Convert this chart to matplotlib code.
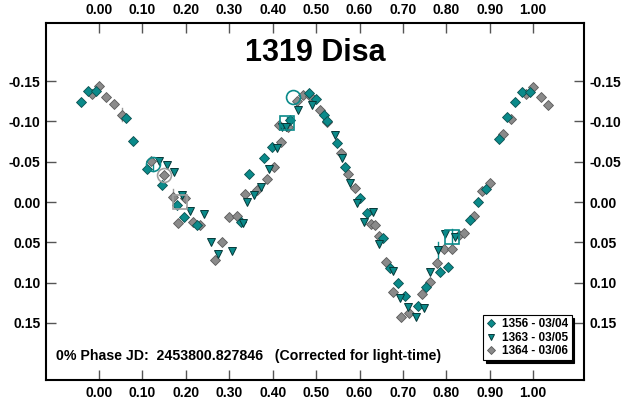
import matplotlib
matplotlib.use("Agg")
import matplotlib.pyplot as plt
from matplotlib.ticker import FixedLocator, FuncFormatter

plt.rcParams['font.family'] = ['Liberation Sans', 'DejaVu Sans']

# 1356 - 03/04 (teal diamonds)
s1_phase = [-0.042, -0.025, -0.007, 0.062, 0.079, 0.110, 0.145, 0.179, 0.195, 0.226,
            0.326, 0.346, 0.381, 0.399, 0.441, 0.483, 0.500, 0.518, 0.526, 0.549,
            0.566, 0.600, 0.617, 0.654, 0.670, 0.688, 0.704, 0.735, 0.753, 0.786,
            0.804, 0.855, 0.874, 0.891, 0.922, 0.940, 0.958, 0.975, 0.992]
s1_mag = [-0.124, -0.1376, -0.1376, -0.104, -0.076, -0.0405, -0.021, 0.0037, 0.018, 0.0285,
          0.025, -0.035, -0.054, -0.0687, -0.1016, -0.1347, -0.1273, -0.108, -0.101, -0.0727,
          -0.0438, -0.0046, 0.014, 0.045, 0.082, 0.100, 0.1165, 0.1285, 0.105, 0.087,
          0.080, 0.0223, -0.0005, -0.016, -0.078, -0.106, -0.124, -0.1367, -0.1367]

# 1363 - 03/05 (teal triangles)
s2_phase = [0.139, 0.156, 0.173, 0.191, 0.209, 0.241, 0.258, 0.275, 0.306, 0.331,
            0.340, 0.356, 0.373, 0.391, 0.409, 0.422, 0.430, 0.459, 0.491, 0.543,
            0.560, 0.578, 0.595, 0.610, 0.630, 0.645, 0.676, 0.694, 0.712, 0.730,
            0.749, 0.763, 0.781, 0.797, 0.820]
s2_mag = [-0.051, -0.0455, -0.037, -0.0087, 0.011, 0.015, 0.049, 0.064, 0.061, 0.0255,
          0.0004, -0.0087, -0.019, -0.041, -0.0674, -0.0926, -0.0926, -0.114, -0.120, -0.0827,
          -0.054, -0.0239, 0.0017, 0.0244, 0.012, 0.0524, 0.086, 0.119, 0.130, 0.143,
          0.131, 0.087, 0.059, 0.040, 0.0437]

# 1364 - 03/06 (gray diamonds)
s3_phase = [-0.017, 0.000, 0.017, 0.035, 0.053, 0.119, 0.149, 0.170, 0.199, 0.182,
            0.216, 0.233, 0.268, 0.283, 0.300, 0.318, 0.336, 0.363, 0.386, 0.403,
            0.420, 0.414, 0.435, 0.455, 0.470, 0.487, 0.508, 0.526, 0.557, 0.573,
            0.589, 0.626, 0.636, 0.645, 0.661, 0.677, 0.695, 0.714, 0.745, 0.763,
            0.778, 0.795, 0.813, 0.828, 0.840, 0.864, 0.882, 0.900, 0.930, 0.948,
            0.984, 1.000, 1.017, 1.035]
s3_mag = [-0.1335, -0.144, -0.130, -0.121, -0.108, -0.051, -0.033, -0.0066, -0.0055, 0.026,
          0.025, 0.029, 0.072, 0.050, 0.019, 0.017, -0.0095, -0.015, -0.029, -0.044,
          -0.075, -0.0955, -0.0935, -0.1256, -0.1327, -0.1314, -0.114, -0.0996, -0.0604, -0.0344,
          -0.018, 0.027, 0.0285, 0.042, 0.074, 0.111, 0.143, 0.137, 0.1145, 0.099,
          0.076, 0.058, 0.058, 0.041, 0.039, 0.017, -0.0136, -0.023, -0.084, -0.1025,
          -0.134, -0.143, -0.130, -0.120]

# comparison / highlighted points
circ_teal_phase = [0.124, 0.447]
circ_teal_mag = [-0.047, -0.130]
circ_gray_phase = [0.149]
circ_gray_mag = [-0.033]
sq_teal_phase = [0.432, 0.814]
sq_teal_mag = [-0.098, 0.043]
sq_gray_phase = [0.187]
sq_gray_mag = [0.0]

# error bars (phase, mag, half-length, colour key)
err_phase = [0.053, 0.170, 0.781, 0.814, 0.432, 0.124]
err_mag = [-0.108, -0.0066, 0.059, 0.043, -0.098, -0.047]
err_size = [0.008, 0.010, 0.010, 0.010, 0.008, 0.008]
err_col = ['gray', 'gray', 'teal', 'teal', 'teal', 'teal']

labels = ['1356 - 03/04', '1363 - 03/05', '1364 - 03/06']
x_ticks = [0.0, 0.1, 0.2, 0.3, 0.4, 0.5, 0.6, 0.7, 0.8, 0.9, 1.0]
y_ticks = [-0.15, -0.10, -0.05, 0.0, 0.05, 0.10, 0.15]

TEAL = '#0A8A8A'
GRAY = '#8A8A8A'
cols = {'teal': TEAL, 'gray': '#9A9A9A'}

fig = plt.figure(figsize=(6.26, 4.08), dpi=100)
ax = fig.add_axes([46/626, 28/408, 538/626, 357/408])

for p, m, e, c in zip(err_phase, err_mag, err_size, err_col):
    ax.plot([p, p], [m - e, m + e], color=cols[c], lw=1.0, zorder=1)

ax.plot(s1_phase, s1_mag, 'D', color=TEAL, mec='#0B4F4F', mew=0.6, ms=5, ls='none',
        label=labels[0], zorder=3)
ax.plot(s2_phase, s2_mag, 'v', color=TEAL, mec='#063838', mew=0.7, ms=5.5, ls='none',
        label=labels[1], zorder=3)
ax.plot(s3_phase, s3_mag, 'D', color=GRAY, mec='#5A5A5A', mew=0.6, ms=5, ls='none',
        label=labels[2], zorder=2)

ax.plot(circ_teal_phase, circ_teal_mag, 'o', mfc='none', mec=TEAL, mew=1.2, ms=10, ls='none', zorder=4)
ax.plot(circ_gray_phase, circ_gray_mag, 'o', mfc='none', mec='#A0A0A0', mew=1.2, ms=10, ls='none', zorder=4)
ax.plot(sq_teal_phase, sq_teal_mag, 's', mfc='none', mec=TEAL, mew=1.2, ms=10, ls='none', zorder=4)
ax.plot(sq_gray_phase, sq_gray_mag, 's', mfc='none', mec='#A0A0A0', mew=1.2, ms=10, ls='none', zorder=4)

ax.set_xlim(-0.122, 1.117)
ax.set_ylim(0.2207, -0.222)

ax.xaxis.set_major_locator(FixedLocator(x_ticks))
ax.yaxis.set_major_locator(FixedLocator(y_ticks))
ax.xaxis.set_major_formatter(FuncFormatter(lambda v, p: f"{v:.2f}"))
ax.yaxis.set_major_formatter(FuncFormatter(lambda v, p: f"{v:.2f}" if abs(v) > 1e-9 else "0.00"))

ax.tick_params(axis='both', which='both', direction='in', length=7, width=1.0, color='#555555',
               top=True, bottom=True, left=True, right=True,
               labeltop=True, labelbottom=True, labelleft=True, labelright=True,
               labelsize=10, pad=4)
for t in ax.xaxis.get_major_ticks():
    t.label1.set_fontweight('bold'); t.label2.set_fontweight('bold')
for t in ax.yaxis.get_major_ticks():
    t.label1.set_fontweight('bold'); t.label2.set_fontweight('bold')

for sp in ax.spines.values():
    sp.set_linewidth(1.5)
    sp.set_color('black')

ax.text(0.5, 0.915, '1319 Disa', transform=ax.transAxes, ha='center', va='center',
        fontsize=22, fontweight='bold')
ax.text(0.018, 0.068, '0% Phase JD:  2453800.827846   (Corrected for light-time)',
        transform=ax.transAxes, ha='left', va='center', fontsize=10.2, fontweight='bold')

leg = ax.legend(loc='lower right', bbox_to_anchor=(0.977, 0.055),
                prop={'weight': 'bold', 'size': 8.5}, frameon=True, fancybox=False,
                shadow={'color': 'black', 'alpha': 1.0}, handlelength=0.8, handletextpad=0.5,
                borderpad=0.3, labelspacing=0.1, borderaxespad=0.0, markerscale=0.8)
leg.get_frame().set_edgecolor('black')
leg.get_frame().set_linewidth(0.8)

fig.savefig('out.png', dpi=100)
